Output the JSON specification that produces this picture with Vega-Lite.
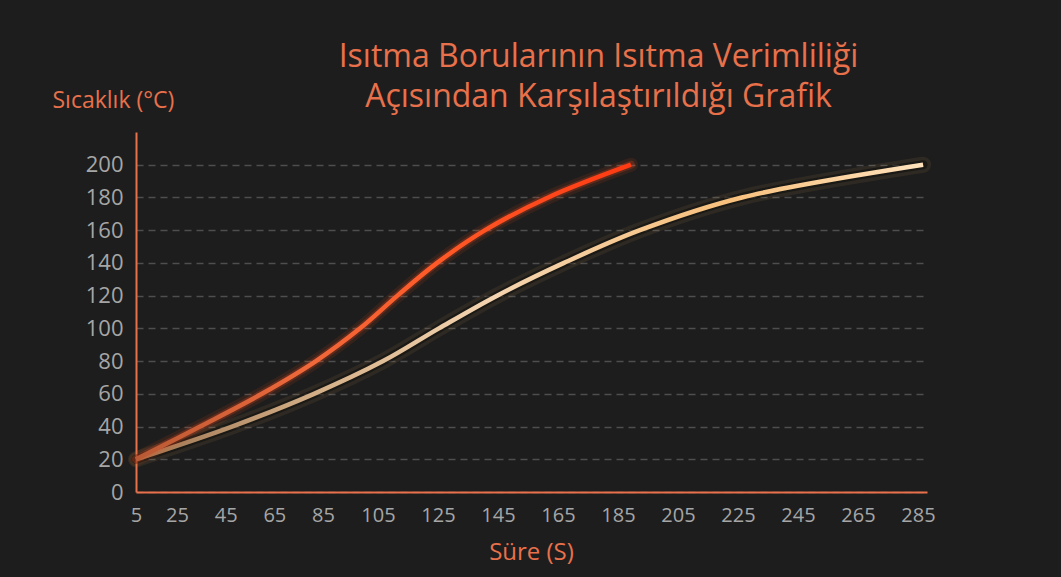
{
  "$schema": "https://vega.github.io/schema/vega-lite/v6.json",
  "autosize": "none",
  "width": 791,
  "height": 360,
  "padding": {"left": 136, "top": 132, "right": 134, "bottom": 85},
  "background": "#1d1d1d",
  "config": {
    "view": {"stroke": null},
    "font": "Open Sans"
  },
  "title": {
    "text": ["Isıtma Borularının Isıtma Verimliliği", "Açısından Karşılaştırıldığı Grafik"],
    "anchor": "middle",
    "frame": "group",
    "dx": 67,
    "dy": 47,
    "offset": 22,
    "fontSize": 32,
    "lineHeight": 40,
    "color": "#e8714b",
    "font": "Open Sans",
    "fontWeight": "normal"
  },
  "data": {
    "values": [
      {"s": "A", "x": 5, "y": 20},
      {"s": "A", "x": 34.5, "y": 40},
      {"s": "A", "x": 59.9, "y": 60},
      {"s": "A", "x": 82.1, "y": 80},
      {"s": "A", "x": 98.5, "y": 100},
      {"s": "A", "x": 111.5, "y": 120},
      {"s": "A", "x": 124.7, "y": 140},
      {"s": "A", "x": 140.7, "y": 160},
      {"s": "A", "x": 161.7, "y": 180},
      {"s": "A", "x": 189.3, "y": 200},
      {"s": "B", "x": 5, "y": 20},
      {"s": "B", "x": 47.6, "y": 40},
      {"s": "B", "x": 81.3, "y": 60},
      {"s": "B", "x": 106.7, "y": 80},
      {"s": "B", "x": 125.3, "y": 100},
      {"s": "B", "x": 144.7, "y": 120},
      {"s": "B", "x": 167, "y": 140},
      {"s": "B", "x": 192.3, "y": 160},
      {"s": "B", "x": 226.3, "y": 180},
      {"s": "B", "x": 286.7, "y": 200}
    ]
  },
  "encoding": {
    "x": {
      "field": "x",
      "type": "quantitative",
      "scale": {"domain": [5, 25, 85, 105, 288], "range": [0, 41, 187, 242, 791], "nice": false, "zero": false},
      "axis": {
        "values": [5, 25, 45, 65, 85, 105, 125, 145, 165, 185, 205, 225, 245, 265, 285],
        "title": "Süre (S)",
        "titleColor": "#e8714b",
        "titleFontSize": 24,
        "titleFont": "Open Sans",
        "titleFontWeight": "normal",
        "titleX": 395,
        "titleY": 67,
        "titleAlign": "center",
        "titleBaseline": "alphabetic",
        "domainColor": "#e8714b",
        "domainWidth": 2,
        "ticks": false,
        "grid": false,
        "labelColor": "#a6a6a6",
        "labelFontSize": 20,
        "labelPadding": 13,
        "labelFlush": false
      }
    },
    "y": {
      "field": "y",
      "type": "quantitative",
      "scale": {"domain": [0, 220], "nice": false, "zero": true},
      "axis": {
        "values": [0, 20, 40, 60, 80, 100, 120, 140, 160, 180, 200],
        "title": "Sıcaklık (°C)",
        "titleColor": "#e8714b",
        "titleFontSize": 23,
        "titleFont": "Open Sans",
        "titleFontWeight": "normal",
        "titleAngle": 0,
        "titleAlign": "left",
        "titleBaseline": "alphabetic",
        "titleX": -84,
        "titleY": -25,
        "domainColor": "#e8714b",
        "domainWidth": 2,
        "ticks": false,
        "grid": true,
        "gridColor": "#4e4e4e",
        "gridWidth": 1.5,
        "gridDash": [7, 5],
        "labelColor": "#a6a6a6",
        "labelFontSize": 22,
        "labelPadding": 13
      }
    }
  },
  "layer": [
    {
      "transform": [{"filter": "datum.s === 'B'"}],
      "mark": {"type": "line", "interpolate": "catmull-rom", "strokeWidth": 16, "color": "#c89a5a", "opacity": 0.1, "strokeCap": "round"}
    },
    {
      "transform": [{"filter": "datum.s === 'B'"}],
      "mark": {"type": "line", "interpolate": "catmull-rom", "strokeWidth": 9, "color": "#000000", "opacity": 0.4, "strokeCap": "round"}
    },
    {
      "transform": [{"filter": "datum.s === 'B'"}],
      "mark": {
        "type": "line", "interpolate": "catmull-rom", "strokeWidth": 4.5,
        "color": {
          "gradient": "linear", "x1": 0, "y1": 0, "x2": 1, "y2": 0,
          "stops": [
            {"offset": 0, "color": "#9c7450"},
            {"offset": 0.25, "color": "#d8b48c"},
            {"offset": 0.45, "color": "#f4d4b0"},
            {"offset": 0.75, "color": "#f8c07c"},
            {"offset": 1, "color": "#ffe2bc"}
          ]
        }
      }
    },
    {
      "transform": [{"filter": "datum.s === 'A'"}],
      "mark": {"type": "line", "interpolate": "catmull-rom", "strokeWidth": 14, "color": "#ff5a20", "opacity": 0.1, "strokeCap": "round"}
    },
    {
      "transform": [{"filter": "datum.s === 'A'"}],
      "mark": {"type": "line", "interpolate": "catmull-rom", "strokeWidth": 8, "color": "#ff4a1a", "opacity": 0.22, "strokeCap": "round"}
    },
    {
      "transform": [{"filter": "datum.s === 'A'"}],
      "mark": {
        "type": "line", "interpolate": "catmull-rom", "strokeWidth": 4.5,
        "color": {
          "gradient": "linear", "x1": 0, "y1": 0, "x2": 1, "y2": 0,
          "stops": [
            {"offset": 0, "color": "#b85a35"},
            {"offset": 0.35, "color": "#f0683a"},
            {"offset": 0.6, "color": "#ff5a28"},
            {"offset": 1, "color": "#ff3a12"}
          ]
        }
      }
    }
  ]
}
